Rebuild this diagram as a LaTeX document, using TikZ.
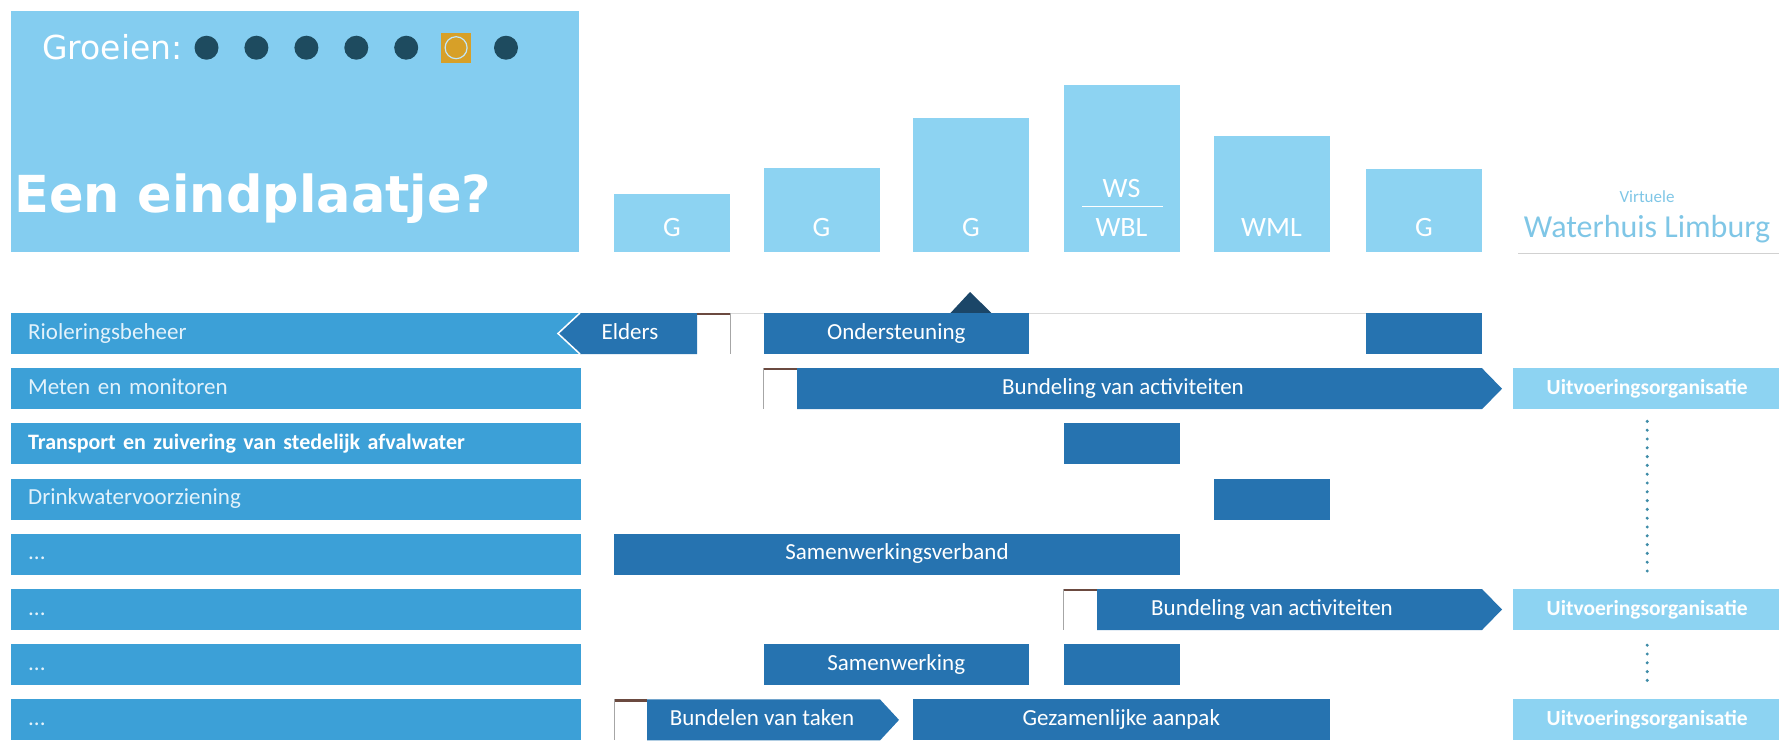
\documentclass[tikz,border=0pt]{standalone}
\usepackage{fontspec}
\setmainfont{Carlito}
\newfontfamily\kopfont{DejaVu Sans}
\usetikzlibrary{positioning}
\definecolor{kopBlauw}{HTML}{84CDF0}
\definecolor{kolomBlauw}{HTML}{8DD3F2}
\definecolor{rijBlauw}{HTML}{3CA0D7}
\definecolor{blokBlauw}{HTML}{2673B0}
\definecolor{pijlNavy}{HTML}{1B4668}
\definecolor{stipDonker}{HTML}{1E4B5F}
\definecolor{stipOranje}{HTML}{D7A028}
\definecolor{tekstLicht}{HTML}{E3F2FB}
\definecolor{waterTekst}{HTML}{7FC6E6}
\definecolor{vouwRand}{HTML}{6B4A40}
\definecolor{stippel}{HTML}{3F8CA8}

\begin{document}
\begin{tikzpicture}[x=1pt, y=-1pt,
    rijlabel/.style={fill=rijBlauw, anchor=west, minimum height=41pt,
      text width=536pt, inner xsep=17pt, inner ysep=0pt, align=left,
      text height=16pt, text depth=5pt, text=tekstLicht,
      font=\fontsize{23}{25}\selectfont},
    blok/.style={fill=blokBlauw, minimum height=41pt, inner sep=0pt,
      text height=16pt, text depth=5pt, text=white,
      font=\fontsize{23}{26}\selectfont},
    pijltekst/.style={inner sep=0pt, text height=16pt, text depth=5pt,
      text=white, font=\fontsize{23}{26}\selectfont},
    kolom/.style={fill=kolomBlauw, anchor=south, minimum width=116pt, inner sep=0pt},
    kolomtekst/.style={anchor=base, inner sep=0pt, text=white,
      font=\fontsize{28}{30}\selectfont},
    uitvoering/.style={fill=kolomBlauw, anchor=west, minimum width=268pt,
      minimum height=41pt, inner sep=0pt, text height=16pt, text depth=5pt,
      text=white, font=\bfseries\fontsize{21.5}{24}\selectfont},
    vouw/.style={vouwRand, line width=2.2pt},
    vouwzijde/.style={black!35, line width=0.8pt},
    stippellijn/.style={stippel, line width=3.4pt, line cap=round,
      dash pattern=on 0pt off 8.8pt}]
  \useasboundingbox (0,0) rectangle (1779,740);
  \clip (0,0) rectangle (1779,740);

  % kop
  \node[fill=kopBlauw, anchor=north west, minimum width=568pt,
    minimum height=241pt, inner sep=0pt] (kop) at (11,11) {};
  \node[anchor=base west, inner sep=0pt, text=white,
    font=\kopfont\fontsize{33}{36}\selectfont] (groeien) at (42,59) {Groeien:};
  \fill[stipDonker] (206.5,47.7) circle (12pt);
  \fill[stipDonker] (256.4,47.7) circle (12pt);
  \fill[stipDonker] (306.4,47.7) circle (12pt);
  \fill[stipDonker] (356.3,47.7) circle (12pt);
  \fill[stipDonker] (406.2,47.7) circle (12pt);
  \fill[stipOranje] (441.1,32.7) rectangle (471.1,62.7);
  \draw[kopBlauw!50!white, fill=stipOranje, line width=1.2pt] (456.1,47.7) circle (11pt);
  \fill[stipDonker] (506,47.7) circle (12pt);
  \node[anchor=base west, inner sep=0pt, text=white,
    font=\kopfont\bfseries\fontsize{51}{56}\selectfont] (titel) at (14,212) {Een eindplaatje?};

  % kolommen
  \node[kolom, minimum height=58pt] (kol1) at (672,252) {};
  \node[kolom, minimum height=84pt] (kol2) at (821.5,252) {};
  \node[kolom, minimum height=134pt] (kol3) at (971,252) {};
  \node[kolom, minimum height=167pt] (kol4) at (1121.5,252) {};
  \node[kolom, minimum height=116pt] (kol5) at (1271.5,252) {};
  \node[kolom, minimum height=83pt] (kol6) at (1424,252) {};
  \node[kolomtekst] (g1) at (672,236) {G};
  \node[kolomtekst] (g2) at (821.5,236) {G};
  \node[kolomtekst] (g3) at (971,236) {G};
  \node[kolomtekst] (ws) at (1121.5,197) {WS};
  \draw[white, line width=1pt] (1082,206) -- (1163,206);
  \node[kolomtekst] (wbl) at (1121.5,236) {WBL};
  \node[kolomtekst] (wml) at (1271.5,236) {WML};
  \node[kolomtekst] (g6) at (1424,236) {G};

  % virtueel waterhuis
  \node[anchor=base, inner sep=0pt, text=waterTekst,
    font=\fontsize{32}{34}\selectfont] (waterhuis) at (1647,237) {Waterhuis Limburg};
  \node[above=12pt of waterhuis, inner sep=0pt, text=waterTekst,
    font=\fontsize{17}{19}\selectfont] (virtueel) {Virtuele};
  \draw[black!18, line width=0.8pt] (1518,253) -- (1779,253);

  % rijen
  \node[rijlabel] (rij1) at (11,333.5) {Rioleringsbeheer};
  \node[rijlabel] (rij2) at (11,388.7) {Meten en monitoren};
  \node[rijlabel, text=white, font=\bfseries\fontsize{22}{24}\selectfont] (rij3)
    at (11,443.9) {Transport en zuivering van stedelijk afvalwater};
  \node[rijlabel] (rij4) at (11,499.1) {Drinkwatervoorziening};
  \node[rijlabel] (rij5) at (11,554.3) {...};
  \node[rijlabel] (rij6) at (11,609.5) {...};
  \node[rijlabel] (rij7) at (11,664.7) {...};
  \node[rijlabel] (rij8) at (11,719.9) {...};

  % rij 1
  \draw[black!15, line width=0.6pt] (730,313.4) -- (1366,313.4);
  \fill[blokBlauw] (558,333.5) -- (580,313) -- (697,313) -- (697,354)
    -- (580,354) -- cycle;
  \draw[white, line width=1.5pt] (580,313) -- (558,333.5) -- (580,354);
  \node[pijltekst] (elders) at (630,333.5) {Elders};
  \draw[vouw] (697,314.1) -- (730,314.1);
  \draw[vouwzijde] (730,313) -- (730,354);
  \fill[pijlNavy] (950,313.5) -- (970,292) -- (992,313.5) -- cycle;
  \node[blok, minimum width=265.5pt] (onderst) at (896.25,333.5) {Ondersteuning};
  \node[blok, minimum width=116pt] (rio6) at (1424,333.5) {};

  % rij 2
  \draw[vouw] (763.5,369.3) -- (797,369.3);
  \draw[vouwzijde] (763.5,368.2) -- (763.5,409.2);
  \fill[blokBlauw] (797,368.2) -- (1482,368.2) -- (1502,388.7) -- (1482,409.2)
    -- (797,409.2) -- cycle;
  \node[pijltekst] (bundeling1) at (1123,388.7) {Bundeling van activiteiten};
  \node[uitvoering] (uitv1) at (1513,388.7) {Uitvoeringsorganisatie};

  % rij 3 en 4
  \node[blok, minimum width=116pt] (transport4) at (1121.5,443.9) {};
  \node[blok, minimum width=116pt] (drinkwater5) at (1271.5,499.1) {};

  % rij 5
  \node[blok, minimum width=566pt] (verband) at (897,554.3) {Samenwerkingsverband};

  % rij 6
  \draw[vouw] (1063.5,590.1) -- (1097,590.1);
  \draw[vouwzijde] (1063.5,589) -- (1063.5,630);
  \fill[blokBlauw] (1097,589) -- (1482,589) -- (1502,609.5) -- (1482,630)
    -- (1097,630) -- cycle;
  \node[pijltekst] (bundeling2) at (1272,609.5) {Bundeling van activiteiten};
  \node[uitvoering] (uitv2) at (1513,609.5) {Uitvoeringsorganisatie};

  % rij 7
  \node[blok, minimum width=265.5pt] (samenwerking) at (896.25,664.7) {Samenwerking};
  \node[blok, minimum width=116pt] (rij7kol4) at (1121.5,664.7) {};

  % rij 8
  \draw[vouw] (614,700.5) -- (647,700.5);
  \draw[vouwzijde] (614,699.4) -- (614,740.4);
  \fill[blokBlauw] (647,699.4) -- (880,699.4) -- (899,719.9) -- (880,740.4)
    -- (647,740.4) -- cycle;
  \node[pijltekst] (bundelen) at (762,719.9) {Bundelen van taken};
  \node[blok, minimum width=416.5pt] (aanpak) at (1121.25,719.9) {Gezamenlijke aanpak};
  \node[uitvoering] (uitv3) at (1513,719.9) {Uitvoeringsorganisatie};

  % stippellijnen
  \draw[stippellijn, shorten <=12pt, shorten >=15pt] (uitv1) -- (uitv2);
  \draw[stippellijn, shorten <=15pt, shorten >=11pt] (uitv2) -- (uitv3);
\end{tikzpicture}
\end{document}
